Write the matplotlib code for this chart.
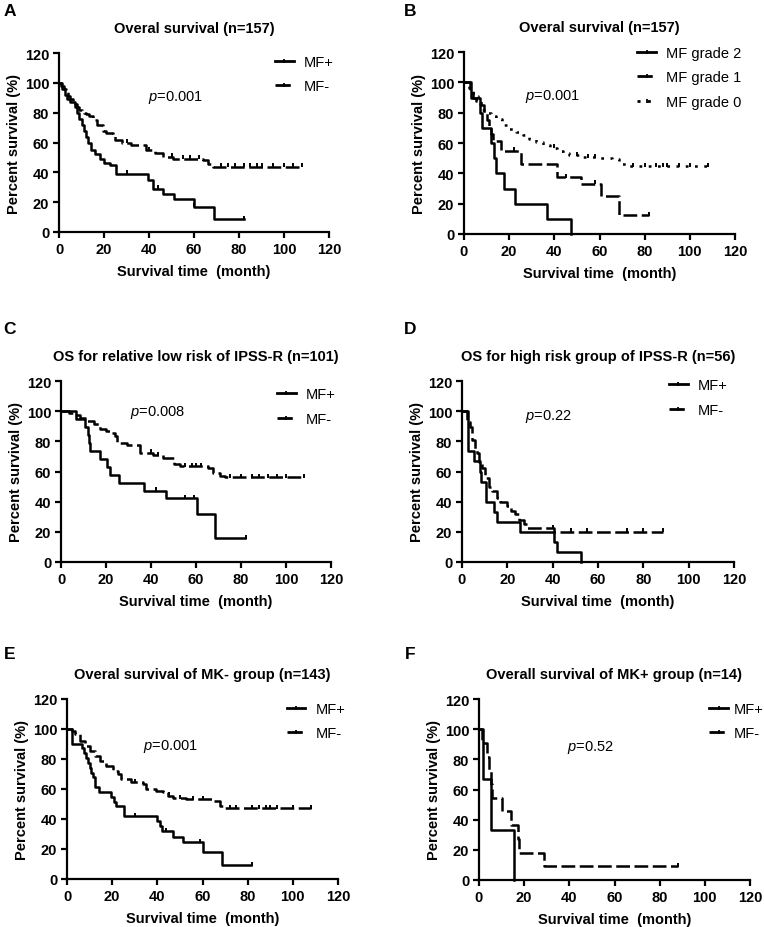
import numpy as np
import matplotlib
matplotlib.use("Agg")
import matplotlib.pyplot as plt
from matplotlib.lines import Line2D

plt.rcParams['font.family'] = 'Liberation Sans'
plt.rcParams['mathtext.fontset'] = 'custom'
plt.rcParams['mathtext.it'] = 'Liberation Sans:italic'
plt.rcParams['mathtext.rm'] = 'Liberation Sans'

# ---- data (time in months, survival in %) ----
# A: overall survival
a_pos_t = [0, 1.5, 2.5, 3.5, 5, 7, 8, 9, 10, 11, 12, 13, 14.3, 16, 18, 20, 22.5, 25.5, 39.5, 41.8, 46, 51, 60, 69, 82]
a_pos_s = [100, 96, 92, 89, 87, 84, 80, 76, 72, 68, 64, 60, 55, 52, 49, 46.5, 44.7, 39, 34.6, 29, 25.7, 22.3, 16.8, 8.5, 8.5]
a_neg_t = [0, 1, 2, 3, 4, 5, 6, 7, 8, 9, 10, 11, 12, 13.5, 15, 17, 19.5, 21, 24, 25, 28, 32, 35, 38.8, 42.5, 46, 50.7, 64, 66, 68.4, 108]
a_neg_s = [100, 98, 96, 94, 91, 89, 87, 86, 84, 82, 81, 80, 79, 78, 75, 72, 68, 66.5, 65, 61.5, 60, 58.5, 58, 54.7, 53, 50.3, 49, 48, 45.8, 43.6, 43.6]
a_pos_cens = [30, 44, 60, 82]
a_neg_cens = [30, 40, 50, 55, 58, 62, 72, 75, 78, 82, 85, 88, 90, 95, 100, 104, 108]

# B: by MF grade
b_g2_t = [0, 3, 7, 8, 11.8, 13.3, 14, 17.7, 22.6, 36.6, 47.2]
b_g2_s = [100, 90, 80, 70, 60, 50, 40, 30, 20, 10, 0]
b_g1_t = [0, 2.7, 4, 5.5, 7.5, 9, 10, 11, 12, 13, 16.5, 25.3, 41.3, 51.6, 60.5, 68.6, 82]
b_g1_s = [100, 94, 90, 88, 85, 80, 75, 70, 66, 61, 55, 46, 37.4, 33, 25.3, 12.5, 12.5]
b_g0_t = [0, 2, 4, 6, 8, 10, 12, 14, 17, 20, 23, 26, 29, 32, 35, 38, 41, 44, 46.5, 52, 60, 65.7, 68.6, 71.6, 108]
b_g0_s = [100, 96, 91, 86, 82, 80, 78, 76, 72, 69, 67, 65, 62.5, 60.5, 58.5, 57, 55, 53.5, 52, 50.6, 50, 49.5, 46, 44.7, 44.7]
b_g1_cens = [22, 45, 58, 82]
b_g0_cens = [40, 50, 55, 58, 75, 80, 85, 88, 90, 95, 100, 108]

# C: relative low risk IPSS-R
c_pos_t = [0, 6.8, 10.8, 12, 12.5, 13, 17.5, 20.4, 21.9, 25.9, 37, 46.7, 60.4, 68.5, 81.8]
c_pos_s = [100, 94.7, 89.5, 84.2, 78.9, 73.7, 68.4, 63.2, 57.9, 52.6, 47.4, 42.1, 31.6, 15.8, 15.8]
c_neg_t = [0, 3.5, 6, 8.6, 11.5, 14.5, 17.5, 20, 22, 24, 25, 29.3, 35, 41, 45.5, 50, 53, 65.5, 67.7, 70.7, 73, 108]
c_neg_s = [100, 99, 97.5, 95.7, 93.5, 91.3, 88.4, 87, 85.7, 83.5, 79, 77.3, 72.5, 70.7, 69.2, 64.7, 63.5, 62.5, 59.2, 57, 56.3, 56.3]
c_pos_cens = [42, 55, 59, 82]
c_neg_cens = [40, 43, 55, 58, 60, 62, 75, 80, 85, 88, 92, 96, 100, 108]

# D: high risk IPSS-R
d_pos_t = [0, 2.5, 5.2, 7.8, 8.5, 10.6, 14, 15.5, 25.5, 40.8, 41.7, 52.3]
d_pos_s = [100, 73.3, 66.7, 60, 53.3, 40, 33.3, 26.7, 20, 13.3, 6.7, 0]
d_neg_t = [0, 2.2, 3.5, 4.4, 5.9, 6.6, 7.4, 8.8, 10.3, 11.8, 13.2, 15.5, 16.9, 19.9, 21.4, 23.6, 25, 27.2, 28.7, 40.5, 88.5]
d_neg_s = [100, 93, 89.5, 81, 75, 72, 66, 62, 56, 50, 47, 42.5, 39.5, 37, 34, 31.5, 28, 25.5, 22.5, 19.9, 19.9]
d_neg_cens = [40, 48, 55, 73, 80, 88.5]

# E: MK- group
e_pos_t = [0, 2, 6.5, 7.5, 8.5, 9.3, 10, 10.8, 11.5, 12.5, 14, 19.6, 20.6, 21.8, 25.4, 40, 41, 42, 47, 51.4, 60, 68.8, 81.6]
e_pos_s = [100, 90.3, 87.1, 83.9, 80.6, 77.4, 74.2, 71, 67.7, 61.3, 58.1, 54.8, 51.6, 48.4, 41.9, 38.7, 35.5, 31.7, 28, 24.4, 18.3, 9.2, 9.2]
e_neg_t = [0, 2, 3.4, 5.6, 7.8, 10, 12.3, 14.5, 17.4, 20.4, 22.6, 24, 28.5, 33.7, 35, 39.6, 42.5, 44.7, 47, 52.8, 64.6, 67.6, 69.8, 108]
e_neg_s = [100, 98.5, 96.7, 92, 88.9, 85.6, 82, 78.9, 75.6, 72.2, 70, 66.7, 64.4, 63.3, 60, 58.9, 57.8, 55.6, 53.8, 53.3, 52.2, 48.9, 47.1, 47.1]
e_pos_cens = [30, 44, 59, 82]
e_neg_cens = [30, 45, 50, 56, 60, 72, 75, 82, 85, 88, 90, 93, 100, 108]

# F: MK+ group
f_pos_t = [0, 1.9, 5.2, 15.5]
f_pos_s = [100, 66.7, 33.3, 0]
f_neg_t = [0, 1.5, 3.5, 4.4, 5.2, 5.9, 10, 14.3, 17.2, 17.8, 28.7, 88]
f_neg_s = [100, 90.9, 81.8, 72.7, 63.6, 54.5, 45.5, 36.4, 27.3, 18.2, 9.1, 9.1]
f_neg_cens = [88]

ticks = [0, 20, 40, 60, 80, 100, 120]

W, H = 764, 928
fig = plt.figure(figsize=(W / 100, H / 100), dpi=100)

SOLID = dict(ls='-')
DASH = dict(ls=(0, (5.5, 1.8)))
DOT = dict(ls=(0, (1.1, 2.6)))


def make_axes(x0, y0, x1, y1):
    ax = fig.add_axes([x0 / W, 1 - y1 / H, (x1 - x0) / W, (y1 - y0) / H])
    ax.set_xlim(0, 120)
    ax.set_ylim(0, 120)
    ax.set_xticks(ticks)
    ax.set_yticks(ticks)
    for side in ['top', 'right']:
        ax.spines[side].set_visible(False)
    for side in ['left', 'bottom']:
        ax.spines[side].set_linewidth(1.6)
    ax.tick_params(direction='out', length=4, width=1.6, labelsize=10.5, pad=3)
    for lab in ax.get_xticklabels() + ax.get_yticklabels():
        lab.set_fontweight('bold')
    ax.set_xlabel('Survival time  (month)', fontsize=10.5, fontweight='bold', labelpad=6)
    ax.set_ylabel('Percent survival (%)', fontsize=10.5, fontweight='bold', labelpad=3)
    return ax


def km(ax, t, s, style, cens=()):
    ax.step(t, s, where='post', color='black', lw=1.8, clip_on=False, **style)
    t = np.array(t)
    s = np.array(s)
    if len(cens):
        idx = np.searchsorted(t, cens, side='right') - 1
        ax.plot(cens, s[np.clip(idx, 0, len(s) - 1)] + 1.0, ls='none', marker='|',
                color='black', ms=3, mew=1.4, clip_on=False)


def legend(ax, labels, styles, x, y, tpad=0.68):
    handles = [Line2D([0], [0], color='black', lw=2, marker='|', ms=2.5, mew=1.3, **st)
               for st in styles]
    ax.legend(handles, labels, loc='upper left', bbox_to_anchor=(x, y), frameon=False,
              fontsize=10.5, handlelength=1.3, handletextpad=tpad, labelspacing=0.72,
              borderaxespad=0, borderpad=0)


def decorate(ax, letter, lx, ly, title, ptxt, px, py):
    ax.set_title(title, fontsize=10.5, fontweight='bold', pad=15)
    fig.text(lx / W, 1 - ly / H, letter, fontsize=12.5, fontweight='bold', ha='center', va='center')
    ax.text(px, py, '$p$=' + ptxt, fontsize=10.5, ha='left', va='center')


# A
ax = make_axes(59, 54, 329, 233)
km(ax, a_pos_t, a_pos_s, SOLID, a_pos_cens)
km(ax, a_neg_t, a_neg_s, DASH, a_neg_cens)
legend(ax, ['MF+', 'MF-'], [SOLID, DASH], 0.80, 0.99)
decorate(ax, 'A', 10, 12, 'Overal survival (n=157)', '0.001', 39.5, 91)

# B
ax = make_axes(464, 53, 735, 235)
km(ax, b_g2_t, b_g2_s, SOLID)
km(ax, b_g1_t, b_g1_s, DASH, b_g1_cens)
km(ax, b_g0_t, b_g0_s, DOT, b_g0_cens)
legend(ax, ['MF grade 2', 'MF grade 1', 'MF grade 0'], [SOLID, DASH, DOT], 0.64, 1.035)
decorate(ax, 'B', 410, 12, 'Overal survival (n=157)', '0.001', 27, 91.5)

# C
ax = make_axes(61, 382, 331, 563)
km(ax, c_pos_t, c_pos_s, SOLID, c_pos_cens)
km(ax, c_neg_t, c_neg_s, DASH, c_neg_cens)
legend(ax, ['MF+', 'MF-'], [SOLID, DASH], 0.80, 0.965)
decorate(ax, 'C', 10, 329, 'OS for relative low risk of IPSS-R (n=101)', '0.008', 30.7, 99.5)

# D
ax = make_axes(462, 382, 734, 563)
km(ax, d_pos_t, d_pos_s, SOLID)
km(ax, d_neg_t, d_neg_s, DASH, d_neg_cens)
legend(ax, ['MF+', 'MF-'], [SOLID, DASH], 0.76, 1.015)
decorate(ax, 'D', 410, 329, 'OS for high risk group of IPSS-R (n=56)', '0.22', 27.8, 96.8)

# E
ax = make_axes(67, 700, 338, 880)
km(ax, e_pos_t, e_pos_s, SOLID, e_pos_cens)
km(ax, e_neg_t, e_neg_s, DASH, e_neg_cens)
legend(ax, ['MF+', 'MF-'], [SOLID, DASH], 0.81, 0.985)
decorate(ax, 'E', 10, 655, 'Overal survival of MK- group (n=143)', '0.001', 33.6, 88.7)

# F
ax = make_axes(479, 700, 750, 881)
km(ax, f_pos_t, f_pos_s, SOLID)
km(ax, f_neg_t, f_neg_s, DASH, f_neg_cens)
legend(ax, ['MF+', 'MF-'], [SOLID, DASH], 0.85, 0.985, tpad=0.35)
decorate(ax, 'F', 410, 655, 'Overall survival of MK+ group (n=14)', '0.52', 39, 88.8)

fig.savefig('out.png', dpi=100)
